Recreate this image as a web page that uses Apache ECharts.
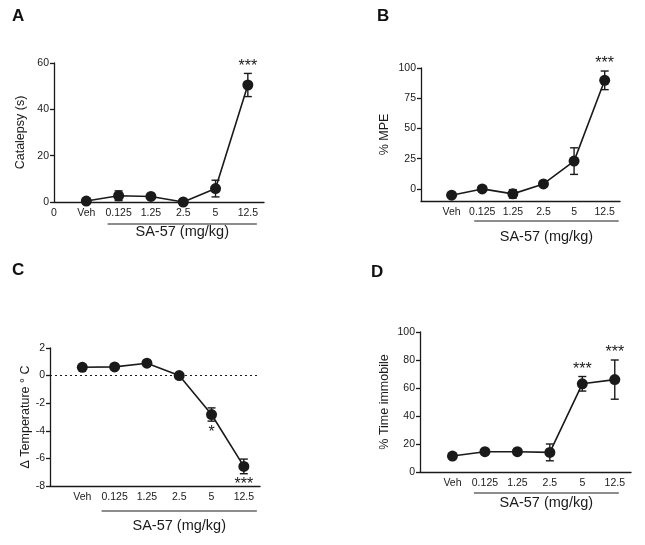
<!DOCTYPE html>
<html>
<head>
<meta charset="utf-8">
<script src="https://cdn.jsdelivr.net/npm/echarts@6/dist/echarts.min.js"></script>
<style>
  html, body { margin: 0; background: #fff; }
  #main { width: 645px; height: 545px; }
</style>
</head>
<body>
<div id="main"></div>
<script>
// doses, plotted at x = 1..6
var doses = ['Veh', '0.125', '1.25', '2.5', '5', '12.5'];

// A: catalepsy
var catalepsy = [0.4, 2.7, 2.4, 0, 5.8, 50.5];
var catalepsyErr = [0.5, 2.1, 0.8, 0.3, 3.6, 5];
var catalepsySig = ['', '', '', '', '', '***'];
var yTicksA = [0, 20, 40, 60];

// B: % MPE
var mpe = [-5.2, 0, -4.1, 4.1, 23, 89.8];
var mpeErr = [1, 1, 3.5, 1, 11, 7.7];
var mpeSig = ['', '', '', '', '', '***'];
var yTicksB = [0, 25, 50, 75, 100];

// C: body temperature change
var temp = [0.6, 0.63, 0.9, 0, -2.82, -6.58];
var tempErr = [0.1, 0.1, 0.1, 0.1, 0.48, 0.53];
var tempSig = ['', '', '', '', '*', '***'];
var yTicksC = [-8, -6, -4, -2, 0, 2];

// D: % time immobile
var immobile = [11.4, 14.5, 14.5, 14, 63, 66];
var immobileErr = [1, 1, 1, 6, 5.2, 14];
var immobileSig = ['', '', '', '', '***', '***'];
var yTicksD = [0, 20, 40, 60, 80, 100];

var FONT = 'Liberation Sans';
var INK = '#1a1a1a';

var panels = [
    { letter: 'A', lx: 12, ly: 8, grid: { left: 54, top: 63, width: 210, height: 139 },
      mean: catalepsy, err: catalepsyErr, sig: catalepsySig, ticks: yTicksA, min: 0, max: 60,
      name: 'Catalepsy (s)', nameGap: 27, zeroLabel: true, sigDown: false,
      ul: [-11, 9, 22], txt: 30 },
    { letter: 'B', lx: 377, ly: 8, grid: { left: 421, top: 68, width: 199, height: 133 },
      mean: mpe, err: mpeErr, sig: mpeSig, ticks: yTicksB, min: -10, max: 100,
      name: '% MPE', nameGap: 30, zeroLabel: false, sigDown: false,
      ul: [-8, 14, 20], txt: 36 },
    { letter: 'C', lx: 12, ly: 262, grid: { left: 50, top: 348, width: 210, height: 138 },
      mean: temp, err: tempErr, sig: tempSig, ticks: yTicksC, min: -8, max: 2,
      name: 'Δ Temperature ° C', nameGap: 17, zeroLabel: false, sigDown: true, zeroLine: true,
      ul: [-13, 13, 25], txt: 40 },
    { letter: 'D', lx: 371, ly: 264, grid: { left: 420, top: 332, width: 211, height: 140 },
      mean: immobile, err: immobileErr, sig: immobileSig, ticks: yTicksD, min: 0, max: 100,
      name: '% Time immobile', nameGap: 29, zeroLabel: false, sigDown: false,
      ul: [-11, 4, 21], txt: 31 }
];

function errorBar(params, api) {
    var x = api.value(0), y = api.value(1), e = api.value(2);
    var hi = api.coord([x, y + e]);
    var lo = api.coord([x, y - e]);
    var w = 4;
    var st = { stroke: INK, lineWidth: 1.4 };
    return {
        type: 'group',
        children: [
            { type: 'line', shape: { x1: hi[0], y1: hi[1], x2: lo[0], y2: lo[1] }, style: st },
            { type: 'line', shape: { x1: hi[0] - w, y1: hi[1], x2: hi[0] + w, y2: hi[1] }, style: st },
            { type: 'line', shape: { x1: lo[0] - w, y1: lo[1], x2: lo[0] + w, y2: lo[1] }, style: st }
        ]
    };
}

function sigMarks(p) {
    return function (params, api) {
        var s = p.sig[params.dataIndex];
        if (!s) return null;
        var x = api.value(0), y = api.value(1), e = api.value(2);
        var pt = p.sigDown ? api.coord([x, y - e]) : api.coord([x, y + e]);
        return {
            type: 'text',
            x: pt[0],
            y: p.sigDown ? pt[1] + 11 : pt[1] + 1,
            style: {
                text: s, fill: INK, font: '16px ' + FONT,
                align: 'center', verticalAlign: p.sigDown ? 'middle' : 'bottom'
            }
        };
    };
}

var option = {
    animation: false,
    backgroundColor: '#fff',
    grid: [], xAxis: [], yAxis: [], series: [],
    graphic: []
};

panels.forEach(function (p, i) {
    option.grid.push(Object.assign({ outerBoundsMode: 'none' }, p.grid));
    var xVals = p.zeroLabel ? [0, 1, 2, 3, 4, 5, 6] : [1, 2, 3, 4, 5, 6];
    option.xAxis.push({
        type: 'value', gridIndex: i, min: 0, max: 6.5,
        axisLine: { onZero: false, lineStyle: { color: INK, width: 1.3 } },
        axisTick: { show: false },
        splitLine: { show: false },
        axisLabel: {
            customValues: xVals, margin: 6,
            color: INK, fontFamily: FONT, fontSize: 10.5,
            formatter: function (v) { return v === 0 ? '0' : doses[Math.round(v) - 1]; }
        }
    });
    option.yAxis.push({
        type: 'value', gridIndex: i, min: p.min, max: p.max,
        name: p.name, nameLocation: 'middle', nameGap: p.nameGap,
        nameTextStyle: { color: INK, fontFamily: FONT, fontSize: 12.5 },
        axisLine: { show: true, lineStyle: { color: INK, width: 1.3 } },
        axisTick: { show: true, length: 4, customValues: p.ticks, lineStyle: { color: INK, width: 1.3 } },
        splitLine: { show: false },
        axisLabel: { customValues: p.ticks, margin: 5, color: INK, fontFamily: FONT, fontSize: 10.5 }
    });
    var rows = p.mean.map(function (v, k) { return [k + 1, v, p.err[k]]; });
    option.series.push({
        type: 'custom', xAxisIndex: i, yAxisIndex: i,
        renderItem: errorBar, data: rows, z: 3
    });
    var line = {
        type: 'line', xAxisIndex: i, yAxisIndex: i,
        data: p.mean.map(function (v, k) { return [k + 1, v]; }),
        symbol: 'circle', symbolSize: 11,
        itemStyle: { color: INK },
        lineStyle: { color: INK, width: 1.6 },
        z: 4
    };
    if (p.zeroLine) {
        line.markLine = {
            silent: true, symbol: ['none', 'none'],
            label: { show: false },
            lineStyle: { type: [2, 3], color: INK, width: 1.2 },
            data: [{ yAxis: 0 }]
        };
    }
    option.series.push(line);
    option.series.push({
        type: 'custom', xAxisIndex: i, yAxisIndex: i,
        renderItem: sigMarks(p), data: rows, z: 5
    });
    option.graphic.push({
        type: 'text', left: p.lx, top: p.ly,
        style: { text: p.letter, font: 'bold 17px ' + FONT, fill: '#111' }
    });
});

var chart = echarts.init(document.getElementById('main'));
chart.setOption(option);

// underline + "SA-57 (mg/kg)" under the dose labels
var extra = [];
panels.forEach(function (p, i) {
    var a = chart.convertToPixel({ gridIndex: i }, [2, p.min]);
    var b = chart.convertToPixel({ gridIndex: i }, [6, p.min]);
    var x1 = a[0] + p.ul[0], x2 = b[0] + p.ul[1], y = a[1] + p.ul[2];
    extra.push({
        type: 'line', shape: { x1: x1, y1: y, x2: x2, y2: y },
        style: { stroke: INK, lineWidth: 1 }
    });
    extra.push({
        type: 'text', x: (x1 + x2) / 2, y: a[1] + p.txt,
        style: { text: 'SA-57 (mg/kg)', font: '14.5px ' + FONT, fill: INK, align: 'center', verticalAlign: 'middle' }
    });
});
chart.setOption({ graphic: option.graphic.concat(extra) });
</script>
</body>
</html>
